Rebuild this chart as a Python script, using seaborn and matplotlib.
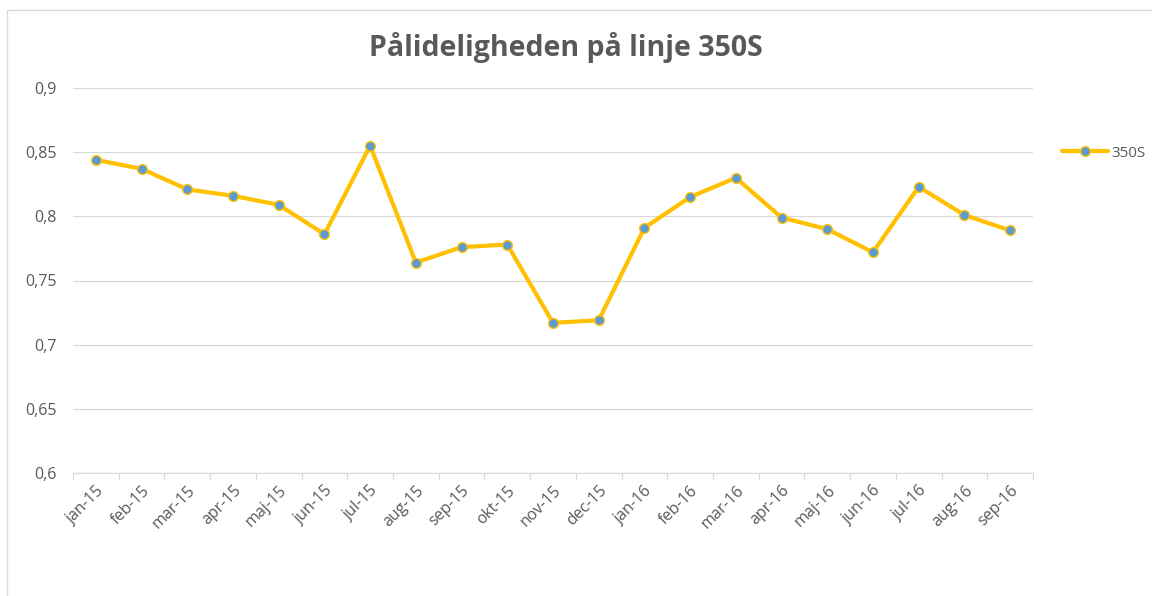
import matplotlib
matplotlib.use("Agg")
import matplotlib.pyplot as plt
import seaborn as sns
import pandas as pd
from matplotlib.patches import Rectangle
from matplotlib.ticker import FixedLocator, FuncFormatter

months = ["jan-15", "feb-15", "mar-15", "apr-15", "maj-15", "jun-15", "jul-15",
          "aug-15", "sep-15", "okt-15", "nov-15", "dec-15", "jan-16", "feb-16",
          "mar-16", "apr-16", "maj-16", "jun-16", "jul-16", "aug-16", "sep-16"]
values = [0.844, 0.837, 0.821, 0.816, 0.809, 0.786, 0.855, 0.764, 0.776, 0.778,
          0.717, 0.719, 0.791, 0.815, 0.830, 0.799, 0.790, 0.772, 0.823, 0.801, 0.789]
series_name = "350S"
title = "Pålideligheden på linje 350S"
y_ticks = [0.6, 0.65, 0.7, 0.75, 0.8, 0.85, 0.9]

df = pd.DataFrame({"month": months, "value": values, "series": series_name})

sns.set_theme(style="white")
plt.rcParams['font.family'] = ['Open Sans', 'DejaVu Sans']

fig = plt.figure(figsize=(11.52, 5.96), dpi=100)
ax = fig.add_axes([73/1152, 1-473/596, 960/1152, 385/596])

sns.lineplot(data=df, x="month", y="value", hue="series", palette=["#FFC000"],
             sort=False, linewidth=3.0, marker="o", markersize=7,
             markerfacecolor="#5B9BD5", markeredgecolor="#FFC000", markeredgewidth=1.0,
             ax=ax, legend=True)

ax.set_xlim(-0.5, len(months) - 0.5)
ax.set_ylim(0.6, 0.9)
ax.set_yticks(y_ticks)
ax.yaxis.set_major_formatter(FuncFormatter(lambda v, p: f"{v:g}".replace(".", ",")))
ax.grid(axis="y", color="#D9D9D9", linewidth=0.9)
ax.grid(axis="x", visible=False)
ax.set_axisbelow(True)
for s in ["left", "right", "top"]:
    ax.spines[s].set_visible(False)
ax.spines["bottom"].set_color("#D9D9D9")
ax.spines["bottom"].set_linewidth(0.9)
ax.set_xlabel("")
ax.set_ylabel("")

ax.xaxis.set_minor_locator(FixedLocator([i - 0.5 for i in range(len(months) + 1)]))
ax.tick_params(axis="x", which="minor", length=5, color="#D9D9D9", width=0.9, bottom=True)
ax.tick_params(axis="x", which="major", length=0, pad=7, labelsize=11.5, labelcolor="#595959")
ax.tick_params(axis="y", length=0, pad=12, labelsize=11.5, labelcolor="#595959")
plt.setp(ax.get_xticklabels(), rotation=45, ha="right", rotation_mode="anchor")

ax.set_title(title, fontsize=20.5, fontweight="bold", color="#595959", pad=23,
             x=(566 - 73) / 960)

leg = ax.legend(loc="center left", bbox_to_anchor=(1.024, 0.831), frameon=False,
                fontsize=11, handlelength=3.0, handletextpad=0.2, borderaxespad=0)
for t in leg.get_texts():
    t.set_color("#595959")

fig.patches.append(Rectangle((7/1152, -0.1), 1.2, 1 - 10/596 + 0.1,
                             transform=fig.transFigure, fill=False,
                             edgecolor="#D9D9D9", linewidth=1.0))

fig.savefig("out.png", dpi=100)
